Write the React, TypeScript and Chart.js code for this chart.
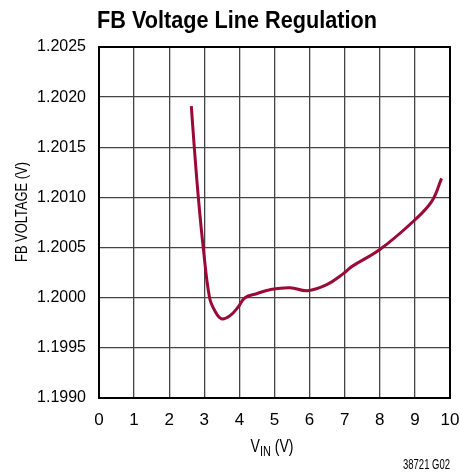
import React, { useEffect, useRef } from "react";
import { Chart, registerables } from "chart.js";

Chart.register(...registerables);

const title = "FB Voltage Line Regulation";
const yTitle = "FB VOLTAGE (V)";
const xTitleMain = "V";
const xTitleSub = "IN";
const xTitleTail = " (V)";
const footnote = "38721 G02";

const vin = [2.63, 2.715, 2.83, 2.97, 3.15, 3.3, 3.49, 3.73, 3.97, 4.16, 4.49, 4.87, 5.44, 5.94, 6.49, 6.96, 7.2, 8.0, 8.95, 9.48, 9.76];
const fbVoltage = [1.20191, 1.2015, 1.201, 1.2005, 1.2, 1.19987, 1.19979, 1.19982, 1.19991, 1.2, 1.20004, 1.20008, 1.2001, 1.20007, 1.20013, 1.20024, 1.20031, 1.20048, 1.20076, 1.20096, 1.20119];

const xMin = 0, xMax = 10, xStep = 1;
const yMin = 1.199, yMax = 1.2025, yStep = 0.0005;

const FONT = '"Liberation Sans", Arial, sans-serif';

function fitText(ctx: any, text: string, x: number, y: number, width: number, align: string) {
  const w = ctx.measureText(text).width;
  const s = width / w;
  ctx.save();
  ctx.translate(x, y);
  ctx.scale(s, 1);
  ctx.textAlign = align;
  ctx.fillText(text, 0, 0);
  ctx.restore();
}

export default function App() {
  const ref = useRef<HTMLCanvasElement>(null);
  useEffect(() => {
    const canvas = ref.current!;
    const textPlugin = {
      id: "texts",
      afterDraw(chart: any) {
        const ctx = chart.ctx;
        const a = chart.chartArea;
        ctx.save();
        ctx.strokeStyle = "#000";
        ctx.lineWidth = 2;
        ctx.strokeRect(a.left, a.top, a.right - a.left, a.bottom - a.top);
        ctx.fillStyle = "#000";
        ctx.textBaseline = "alphabetic";
        // title
        ctx.font = `bold 24px ${FONT}`;
        fitText(ctx, title, 237, 28, 280, "center");
        // y title
        ctx.save();
        ctx.translate(27, 212);
        ctx.rotate(-Math.PI / 2);
        ctx.font = `16px ${FONT}`;
        fitText(ctx, yTitle, 0, 0, 100, "center");
        ctx.restore();
        // x title
        const sx = 0.78;
        ctx.font = `18px ${FONT}`;
        const w1 = ctx.measureText(xTitleMain).width * sx;
        const w3 = ctx.measureText(xTitleTail).width * sx;
        ctx.font = `14px ${FONT}`;
        const w2 = ctx.measureText(xTitleSub).width * sx;
        let x = 272 - (w1 + w2 + w3) / 2;
        ctx.font = `18px ${FONT}`;
        fitText(ctx, xTitleMain, x, 452, w1, "left");
        x += w1;
        ctx.font = `14px ${FONT}`;
        fitText(ctx, xTitleSub, x, 456, w2, "left");
        x += w2;
        ctx.font = `18px ${FONT}`;
        fitText(ctx, xTitleTail, x, 452, w3, "left");
        // footnote
        ctx.font = `14px ${FONT}`;
        fitText(ctx, footnote, 450, 469, 47, "right");
        ctx.restore();
      },
    };
    const chart = new Chart(canvas, {
      type: "scatter",
      data: {
        datasets: [
          {
            data: vin.map((v, i) => ({ x: v, y: fbVoltage[i] })),
            showLine: true,
            borderColor: "#9a0a36",
            borderWidth: 3,
            pointRadius: 0,
            tension: 0.4,
            fill: false,
          },
        ],
      },
      options: {
        responsive: false,
        animation: false,
        layout: { padding: { left: 0, right: 10, top: 47, bottom: 0 } },
        plugins: { legend: { display: false }, tooltip: { enabled: false } },
        scales: {
          x: {
            type: "linear",
            min: xMin,
            max: xMax,
            afterFit: (s: any) => { s.height = 76; s.paddingRight = 0; s.paddingLeft = 0; },
            ticks: {
              stepSize: xStep,
              color: "#000",
              padding: 12,
              font: { family: FONT, size: 17 },
              maxRotation: 0,
            },
            grid: { color: "#444", lineWidth: 1.3, drawTicks: false },
            border: { color: "#000", width: 2 },
          },
          y: {
            type: "linear",
            min: yMin,
            max: yMax,
            afterFit: (s: any) => { s.width = 99; s.paddingTop = 0; s.paddingBottom = 0; },
            ticks: {
              stepSize: yStep,
              color: "#000",
              padding: 13,
              font: { family: FONT, size: 16 },
              callback: (v: any) => Number(v).toFixed(4),
            },
            grid: { color: "#444", lineWidth: 1.3, drawTicks: false },
            border: { color: "#000", width: 2 },
          },
        },
      },
      plugins: [textPlugin],
    });
    return () => chart.destroy();
  }, []);
  return (
    <div style={{ position: "absolute", left: 0, top: 0, width: 460, height: 474, background: "#fff" }}>
      <canvas ref={ref} width={460} height={474} />
    </div>
  );
}
